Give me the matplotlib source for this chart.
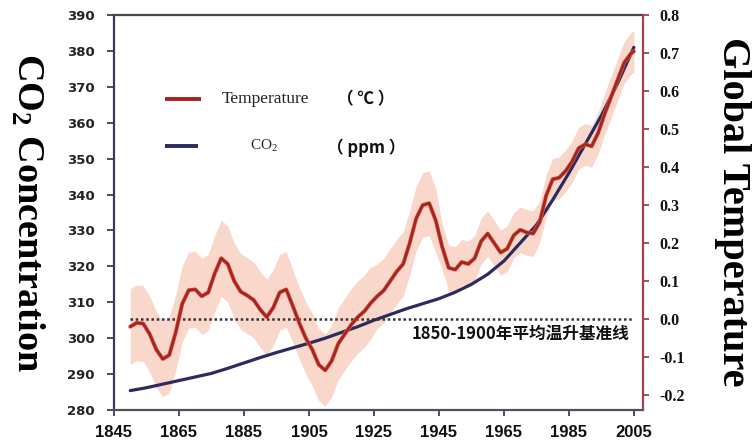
import matplotlib
matplotlib.use("Agg")
import matplotlib.pyplot as plt

# ---- data -------------------------------------------------------------
co2_years = [1850, 1855, 1860, 1865, 1870, 1875, 1880, 1885, 1890, 1895,
             1900, 1905, 1910, 1915, 1920, 1925, 1930, 1935, 1940, 1945,
             1950, 1955, 1960, 1965, 1970, 1975, 1980, 1985, 1990, 1995,
             2000, 2005]
co2_ppm = [285.4, 286.2, 287.2, 288.2, 289.2, 290.2, 291.6, 293.1, 294.6, 296.0,
           297.3, 298.6, 300.0, 301.6, 303.2, 305.0, 306.6, 308.2, 309.6, 311.0,
           312.8, 315.0, 317.8, 321.5, 326.5, 331.5, 338.5, 346.0, 354.0, 362.0,
           371.0, 381.0]

temp_years = [1850, 1852, 1854, 1856, 1858, 1860, 1862, 1864, 1866, 1868,
              1870, 1872, 1874, 1876, 1878, 1880, 1882, 1884, 1886, 1888,
              1890, 1892, 1894, 1896, 1898, 1900, 1902, 1904, 1906, 1908,
              1910, 1912, 1914, 1916, 1918, 1920, 1922, 1924, 1926, 1928,
              1930, 1932, 1934, 1936, 1938, 1940, 1942, 1944, 1946, 1948,
              1950, 1952, 1954, 1956, 1958, 1960, 1962, 1964, 1966, 1968,
              1970, 1972, 1974, 1976, 1978, 1980, 1982, 1984, 1986, 1988,
              1990, 1992, 1994, 1996, 1998, 2000, 2002, 2004, 2005]
temp_anom = [-0.020, -0.010, -0.012, -0.040, -0.080, -0.105, -0.095, -0.035, 0.040, 0.076,
             0.078, 0.060, 0.070, 0.120, 0.160, 0.145, 0.100, 0.072, 0.062, 0.050,
             0.025, 0.005, 0.030, 0.070, 0.078, 0.035, -0.010, -0.050, -0.080, -0.120,
             -0.135, -0.110, -0.065, -0.040, -0.015, 0.005, 0.020, 0.042, 0.060, 0.075,
             0.100, 0.125, 0.145, 0.200, 0.265, 0.300, 0.305, 0.260, 0.190, 0.135,
             0.130, 0.150, 0.145, 0.160, 0.205, 0.225, 0.200, 0.175, 0.185, 0.220,
             0.235, 0.228, 0.225, 0.255, 0.325, 0.368, 0.372, 0.390, 0.415, 0.450,
             0.460, 0.455, 0.490, 0.540, 0.585, 0.630, 0.675, 0.698, 0.705]
temp_spread = [0.100, 0.100, 0.100, 0.100, 0.100, 0.100, 0.100, 0.100, 0.100, 0.100,
               0.100, 0.100, 0.100, 0.100, 0.100, 0.100, 0.100, 0.100, 0.100, 0.100,
               0.100, 0.100, 0.100, 0.100, 0.100, 0.095, 0.095, 0.095, 0.095, 0.095,
               0.095, 0.095, 0.095, 0.095, 0.095, 0.095, 0.095, 0.095, 0.085, 0.085,
               0.085, 0.085, 0.085, 0.085, 0.085, 0.085, 0.085, 0.085, 0.060, 0.060,
               0.060, 0.060, 0.060, 0.060, 0.060, 0.060, 0.060, 0.060, 0.060, 0.060,
               0.060, 0.060, 0.060, 0.055, 0.055, 0.055, 0.055, 0.055, 0.055, 0.055,
               0.055, 0.055, 0.055, 0.055, 0.055, 0.055, 0.055, 0.055, 0.055]

baseline_span = [1850, 2005]
baseline_value = 0.0
baseline_label = "1850-1900年平均温升基准线"

year_ticks = [1845, 1865, 1885, 1905, 1925, 1945, 1965, 1985, 2005]
co2_ticks = [280, 290, 300, 310, 320, 330, 340, 350, 360, 370, 380, 390]
temp_ticks = [-0.2, -0.1, 0.0, 0.1, 0.2, 0.3, 0.4, 0.5, 0.6, 0.7, 0.8]

# ---- styling ----------------------------------------------------------
RED = "#a8231d"
RED_SOFT = "#d4604f"
NAVY = "#2b2b5e"
BAND = "#f9d8cb"
CJK = ["Noto Sans CJK SC", "DejaVu Sans"]
SERIF = "Liberation Serif"
SANS = "Liberation Sans"

W, H = 753, 442
fig = plt.figure(figsize=(W / 100, H / 100), dpi=100)
fig.patch.set_facecolor("white")

x0, x1, ytop, ybot = 114, 643, 15, 410
ax1 = fig.add_axes([x0 / W, 1 - ybot / H, (x1 - x0) / W, (ybot - ytop) / H])
ax2 = ax1.twinx()

ax1.set_xlim(1845, 2007.8)
ax1.set_ylim(280, 390)
ax2.set_ylim(-0.2395, 0.8005)

# uncertainty band and temperature curve
lower = [t - s for t, s in zip(temp_anom, temp_spread)]
upper = [t + s for t, s in zip(temp_anom, temp_spread)]
ax2.fill_between(temp_years, lower, upper, color=BAND, lw=0, zorder=1)

# CO2 curve, drawn in the left-axis data space but above the band
ax2.plot(co2_years, co2_ppm, color=NAVY, lw=2.3, zorder=2.5,
         solid_capstyle="round", solid_joinstyle="round",
         transform=ax1.transData)

# baseline (1850-1900 mean)
ax2.plot(baseline_span, [baseline_value, baseline_value], color="#333333",
         lw=1.8, ls=(0, (1, 1.1)), zorder=2.6)
ax2.text(1936.7, -0.040, baseline_label, family=CJK, fontsize=12,
         fontweight="bold", ha="left", va="center", color="#111111", zorder=4)

ax2.plot(temp_years, temp_anom, color=RED_SOFT, lw=2.9, zorder=2.8,
         solid_capstyle="round", solid_joinstyle="round")
ax2.plot(temp_years, temp_anom, color=RED, lw=1.9, zorder=3,
         solid_capstyle="round", solid_joinstyle="round")

# ---- axes -------------------------------------------------------------
for side in ("left", "top", "bottom"):
    ax2.spines[side].set_visible(False)
ax1.spines["right"].set_visible(False)
ax1.spines["left"].set_color("#3b3b5c")
ax1.spines["top"].set_color("#4a4a4a")
ax1.spines["bottom"].set_color("#50505e")
ax2.spines["right"].set_color("#a04050")
for sp in ("left", "top", "bottom"):
    ax1.spines[sp].set_linewidth(1.6)
ax2.spines["right"].set_linewidth(1.6)

ax1.set_xticks(year_ticks)
ax1.set_xticklabels([str(y) for y in year_ticks], family=SANS,
                    fontweight="bold", fontsize=12, color="#111111")
ax1.tick_params(axis="x", direction="out", length=4, width=1.3,
                color="#3b3b5c", pad=7)

ax1.set_yticks(co2_ticks)
ax1.set_yticklabels([str(v) for v in co2_ticks], family="DejaVu Sans",
                    fontweight="bold", fontsize=9.5, color="#222222")
ax1.tick_params(axis="y", direction="out", length=5, width=1.3,
                color="#3b3b5c", pad=9)

ax2.set_yticks(temp_ticks)
ax2.set_yticklabels([f"{v:.1f}" for v in temp_ticks], family=SERIF,
                    fontweight="bold", fontsize=11.5, color="#111111")
ax2.tick_params(axis="y", direction="out", length=4, width=1.3,
                color="#a04050", pad=8)

# ---- axis titles ------------------------------------------------------
fig.text(28 / W, 1 - 212 / H, r"CO$_\mathregular{2}$ Concentration",
         rotation=270, ha="center", va="center", family=SERIF,
         fontweight="bold", fontsize=27.5)
fig.text(732 / W, 1 - 212 / H, "Global Temperature",
         rotation=270, ha="center", va="center", family=SERIF,
         fontweight="bold", fontsize=29)

# ---- legend -----------------------------------------------------------
leg_red_y, leg_navy_y = 0.787, 0.668
ax1.plot([0.0964, 0.1645], [leg_red_y, leg_red_y], transform=ax1.transAxes,
         color=RED, lw=2.8, solid_capstyle="butt", clip_on=False)
ax1.plot([0.0964, 0.158], [leg_navy_y, leg_navy_y], transform=ax1.transAxes,
         color=NAVY, lw=2.8, solid_capstyle="butt", clip_on=False)
ax1.text(0.204, leg_red_y, "Temperature", transform=ax1.transAxes,
         family=SERIF, fontsize=12.5, va="center", ha="left", color="#222222")
ax1.text(0.476, leg_red_y, "（ ℃ ）", transform=ax1.transAxes, family=CJK,
         fontweight="bold", fontsize=12, va="center", ha="center", color="#111111")
ax1.text(0.257, leg_navy_y, r"CO$_\mathregular{2}$", transform=ax1.transAxes,
         family=SERIF, fontsize=11, va="center", ha="left", color="#222222")
ax1.text(0.476, leg_navy_y - 0.005, "（ ppm ）", transform=ax1.transAxes, family=CJK,
         fontweight="bold", fontsize=12, va="center", ha="center", color="#111111")

fig.savefig("out.png", dpi=100, facecolor="white")
